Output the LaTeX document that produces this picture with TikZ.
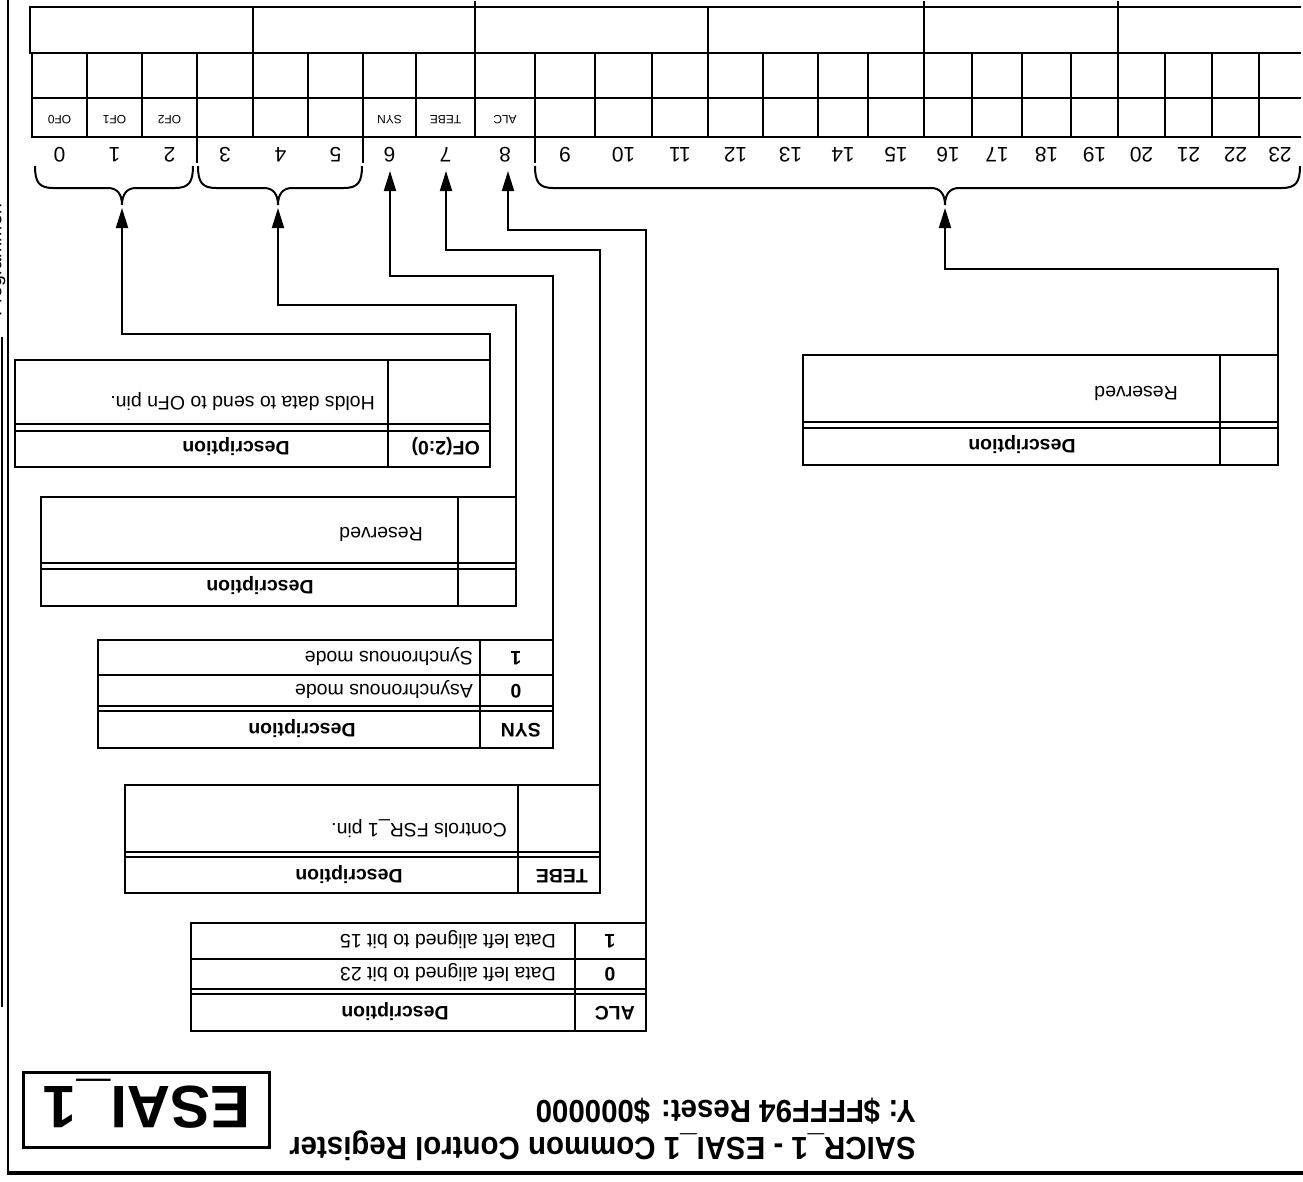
\documentclass[tikz,border=0pt]{standalone}
\usepackage{fontspec}
\setmainfont{Liberation Sans}
\newfontfamily\titlefont[FakeStretch=0.92]{Liberation Sans}
\usetikzlibrary{arrows.meta}
\begin{document}
\begin{tikzpicture}[x=1pt,y=-1pt,
  tl/.style={line width=2.4pt},
  dl/.style={line width=2pt},
  tick/.style={line width=1.8pt},
  brace/.style={line width=2pt},
  conn/.style={line width=2pt,-{Triangle[length=20pt,width=12pt]}},
  txt/.style={rotate=180,inner sep=0pt,font={\fontsize{19.5}{23}\selectfont}},
  btxt/.style={rotate=180,inner sep=0pt,font={\fontsize{19.5}{23}\selectfont\bfseries}},
  bitnum/.style={rotate=180,inner sep=0pt,anchor=base,font={\fontsize{21}{25}\selectfont}},
  cellsm/.style={rotate=180,inner sep=0pt,anchor=base,font={\fontsize{12}{14}\selectfont}},
  ttl/.style={rotate=180,inner sep=0pt,anchor=base west,font={\titlefont\fontsize{32}{36}\selectfont\bfseries}}
]
\useasboundingbox (0,0) rectangle (1303,1181);
\fill[white] (0,0) rectangle (1303,1181);

% page frame
\draw[line width=2.2pt] (8,0) -- (8,1174);
\draw[line width=4pt] (6.9,1173) -- (1303,1173);
\draw[line width=1.5pt] (2,337) -- (2,1007);
\begin{scope}
  \clip (0,0) rectangle (7,1181);
  \node[rotate=90,inner sep=0pt,anchor=base west,font={\fontsize{19.5}{23}\selectfont}] (side) at (1.5,317) {Programmer:};
\end{scope}

% register table: top row
\draw[tl] (1301,7) -- (30,7) -- (30,53) -- (1301,53);
\foreach \x in {253,708} \draw[tl] (\x,7) -- (\x,53);
\foreach \x in {475,924,1118} \draw[tl] (\x,1) -- (\x,53);
% bit rows
\draw[tl] (32,53) -- (32,137) -- (1301,137);
\draw[tl] (32,98) -- (1301,98);
\foreach \x in {87,142,197,253,308,363,416,475,535,595,652,708,763,818,868,924,972,1022,1071,1118,1165,1212,1259}
  \draw[tl] (\x,53) -- (\x,137);
\foreach \x in {197,363,535} \draw[tick] (\x,137) -- (\x,163);

% bit numbers
\foreach \i/\x in {0/59.5,1/114.5,2/169.5,3/225,4/280.5,5/335.5,6/389.5,7/445.5,8/505,9/565,10/623.5,11/680,12/735.5,13/790.5,14/843,15/896,16/948,17/997,18/1046.5,19/1094.5,20/1141.5,21/1188.5,22/1235.5,23/1280}
  \node[bitnum] (n\i) at (\x,147) {\i};

% bit names
\node[cellsm] (cOF0) at (59.5,115) {OF0};
\node[cellsm] (cOF1) at (114.5,115) {OF1};
\node[cellsm] (cOF2) at (169.5,115) {OF2};
\node[cellsm] (cSYN) at (389.5,115) {SYN};
\node[cellsm] (cTEBE) at (445.5,115) {TEBE};
\node[cellsm] (cALC) at (505,115) {ALC};

% braces
\foreach \a/\m/\b in {35/122/193,198/278/362,535/945/1300}
  \draw[brace] (\a,166) .. controls (\a,182) and (\a+4,188) .. (\a+18,188) -- (\m-14,188)
     .. controls (\m-5,188) and (\m,194) .. (\m,205)
     .. controls (\m,194) and (\m+5,188) .. (\m+14,188) -- (\b-18,188)
     .. controls (\b-4,188) and (\b,182) .. (\b,166);

\coordinate (br1) at (122,208);
\coordinate (br2) at (278,208);
\coordinate (br3) at (945,208);
\coordinate (bit6) at (390,171);
\coordinate (bit7) at (446,171);
\coordinate (bit8) at (508,171);

% ---- OF(2:0) table
\draw[tl] (15,360) rectangle (490,467);
\draw[tl] (388,360) -- (388,467);
\draw[dl] (15,424) -- (490,424) (15,431) -- (490,431);
\node[txt,anchor=base west] (ofd) at (375,396) {Holds data to send to OFn pin.};
\node[btxt,anchor=base west] (ofh) at (480,441) {OF(2:0)};
\node[btxt,anchor=base] (ofdh) at (236,441) {Description};
\coordinate (tOF) at (490,360);

% ---- Reserved table (bits 3-5)
\draw[tl] (41,497) rectangle (516,606);
\draw[tl] (458,497) -- (458,606);
\draw[dl] (41,563) -- (516,563) (41,569) -- (516,569);
\node[txt,anchor=base west] (r1d) at (423,527) {Reserved};
\node[btxt,anchor=base] (r1h) at (260,580) {Description};
\coordinate (tR1) at (516,497);

% ---- SYN table
\draw[tl] (98,640) rectangle (553,748);
\draw[tl] (480,640) -- (480,748);
\draw[tl] (98,675) -- (553,675);
\draw[dl] (98,706) -- (553,706) (98,711) -- (553,711);
\node[txt,anchor=base west] (syn1) at (473,651) {Synchronous mode};
\node[txt,anchor=base west] (syn0) at (473,684) {Asynchronous mode};
\node[btxt,anchor=base] (syn1v) at (516,651) {1};
\node[btxt,anchor=base] (syn0v) at (516,684) {0};
\node[btxt,anchor=base west] (synh) at (541,723) {SYN};
\node[btxt,anchor=base] (syndh) at (302,723) {Description};
\coordinate (tSYN) at (553,640);

% ---- TEBE table
\draw[tl] (125,785) rectangle (600,893);
\draw[tl] (518,785) -- (518,893);
\draw[dl] (125,852) -- (600,852) (125,857) -- (600,857);
\node[txt,anchor=base west] (tebed) at (507,823) {Controls FSR\_1 pin.};
\node[btxt,anchor=base west] (tebeh) at (588,869) {TEBE};
\node[btxt,anchor=base] (tebedh) at (349,869) {Description};
\coordinate (tTEBE) at (600,785);

% ---- ALC table
\draw[tl] (191,923) rectangle (646,1031);
\draw[tl] (575,923) -- (575,1031);
\draw[tl] (191,959) -- (646,959);
\draw[dl] (191,989) -- (646,989) (191,994) -- (646,994);
\node[txt,anchor=base west] (alc1) at (556,934) {Data left aligned to bit 15};
\node[txt,anchor=base west] (alc0) at (556,967) {Data left aligned to bit 23};
\node[btxt,anchor=base] (alc1v) at (610,934) {1};
\node[btxt,anchor=base] (alc0v) at (610,967) {0};
\node[btxt,anchor=base west] (alch) at (635,1006) {ALC};
\node[btxt,anchor=base] (alcdh) at (395,1006) {Description};
\coordinate (tALC) at (646,923);

% ---- Reserved table (bits 9-23)
\draw[tl] (803,355) rectangle (1278,465);
\draw[tl] (1220,355) -- (1220,465);
\draw[dl] (803,422) -- (1278,422) (803,428) -- (1278,428);
\node[txt,anchor=base west] (r2d) at (1178,386) {Reserved};
\node[btxt,anchor=base] (r2h) at (1022,439) {Description};
\coordinate (tR2) at (1278,355);

% connectors
\draw[conn] (tOF) -- ++(0,-26) -| (br1);
\draw[conn] (tR1) -- ++(0,-192) -| (br2);
\draw[conn] (tSYN) -- ++(0,-364) -| (bit6);
\draw[conn] (tTEBE) -- ++(0,-535) -| (bit7);
\draw[conn] (tALC) -- ++(0,-693) -| (bit8);
\draw[conn] (tR2) -- ++(0,-86) -| (br3);

% title
\node[ttl] (title1) at (916,1137) {SAICR\_1 - ESAI\_1 Common Control Register};
\node[ttl] (title2) at (916,1100) {Y: \$FFFF94 Reset: \$000000};

% ESAI_1 box
\draw[line width=3pt] (23,1072) rectangle (269,1147);
\node[rotate=180,inner sep=0pt,anchor=base,font={\fontsize{60}{68}\selectfont\bfseries}] (esai) at (147,1086) {ESAI\_1};
\end{tikzpicture}
\end{document}
